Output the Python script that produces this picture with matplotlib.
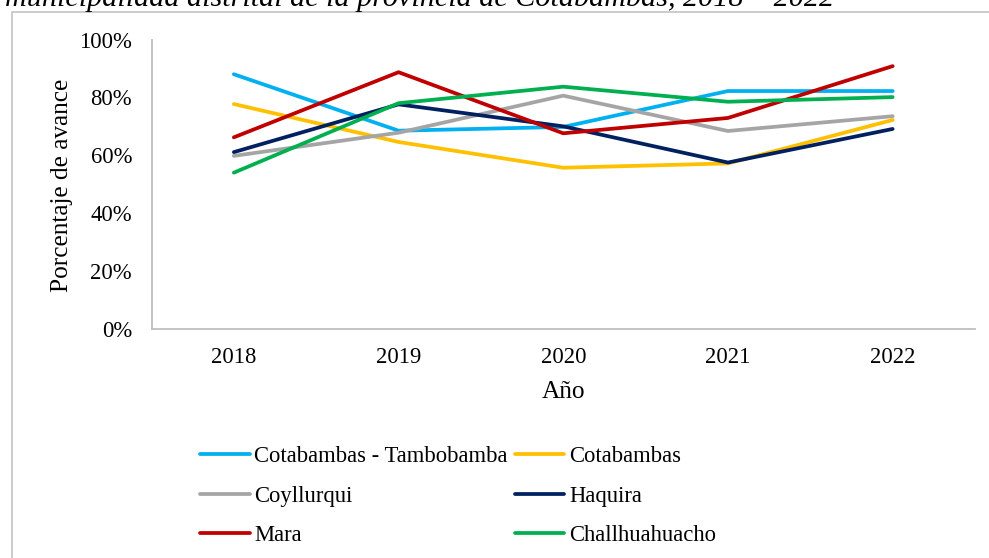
import matplotlib
matplotlib.use("Agg")
import matplotlib.pyplot as plt
from matplotlib.patches import Rectangle
from matplotlib.ticker import PercentFormatter

years = ["2018", "2019", "2020", "2021", "2022"]
series_names = ["Cotabambas - Tambobamba", "Cotabambas", "Coyllurqui",
                "Haquira", "Mara", "Challhuahuacho"]
cotabambas_tambobamba = [88.0, 68.5, 69.8, 82.2, 82.2]
cotabambas = [77.7, 64.6, 55.7, 57.2, 72.2]
coyllurqui = [59.8, 67.8, 80.6, 68.4, 73.5]
haquira = [61.1, 77.6, 70.0, 57.5, 69.1]
mara = [66.2, 88.7, 67.6, 72.9, 90.8]
challhuahuacho = [54.0, 78.0, 83.7, 78.5, 80.1]
series_values = [cotabambas_tambobamba, cotabambas, coyllurqui,
                 haquira, mara, challhuahuacho]
series_colors = ["#00B0F0", "#FFC000", "#A5A5A5", "#002060", "#C00000", "#00B050"]

title_text = "municipalidad distrital de la provincia de Cotabambas, 2018 – 2022"
y_label = "Porcentaje de avance"
x_label = "Año"

plt.rcParams["font.family"] = ["Liberation Serif", "DejaVu Serif"]
TICK_FS = 16.3
LABEL_FS = 18.2
LEGEND_FS = 16.3

W, H = 989, 558
fig = plt.figure(figsize=(W / 100, H / 100), dpi=100)

# chart frame (continues past the right and bottom edges)
fig.patches.append(Rectangle((12 / W, -0.1), 1.2, 1 - 12 / H + 0.1,
                             transform=fig.transFigure, fill=False,
                             edgecolor="#C8C8C8", linewidth=1.3))

# caption line, partly cut at the top
fig.text(5 / W, 1 - 5.5 / H, title_text, fontsize=21.7, style="italic",
         ha="left", va="baseline")

ax = fig.add_axes([151.5 / W, 1 - 329 / H, (975 - 151.5) / W, (329 - 39.5) / H])
x = list(range(len(years)))
lines = []
for name, vals, col in zip(series_names, series_values, series_colors):
    ln, = ax.plot(x, vals, color=col, linewidth=2.7, label=name,
                  solid_capstyle="round")
    lines.append(ln)

ax.set_xlim(-0.5, len(years) - 0.5)
ax.set_ylim(0, 100)
ax.set_yticks(range(0, 101, 20))
ax.yaxis.set_major_formatter(PercentFormatter(decimals=0))
ax.set_xticks(x)
ax.set_xticklabels(years)
ax.tick_params(axis="both", length=0, labelsize=TICK_FS)
ax.tick_params(axis="x", pad=13)
ax.tick_params(axis="y", pad=14)
for s in ("top", "right"):
    ax.spines[s].set_visible(False)
for s in ("left", "bottom"):
    ax.spines[s].set_color("#BFBFBF")
    ax.spines[s].set_linewidth(1.3)

fig.text(62 / W, 1 - 185 / H, y_label, rotation=90, fontsize=LABEL_FS,
         ha="center", va="center")
fig.text(563 / W, 1 - 392 / H, x_label, fontsize=LABEL_FS, ha="center", va="center")

# legend filled row by row: reorder for matplotlib's column-major layout
order = [0, 2, 4, 1, 3, 5]
fig.legend([lines[i] for i in order], [series_names[i] for i in order],
           ncol=2, loc="upper left",
           bbox_to_anchor=(200 / W, 1 - 446 / H), bbox_transform=fig.transFigure,
           frameon=False, fontsize=LEGEND_FS, handlelength=2.2, handletextpad=0.2,
           columnspacing=0.3, labelspacing=0.82, borderpad=0, borderaxespad=0)

fig.savefig("out.png", dpi=100)
